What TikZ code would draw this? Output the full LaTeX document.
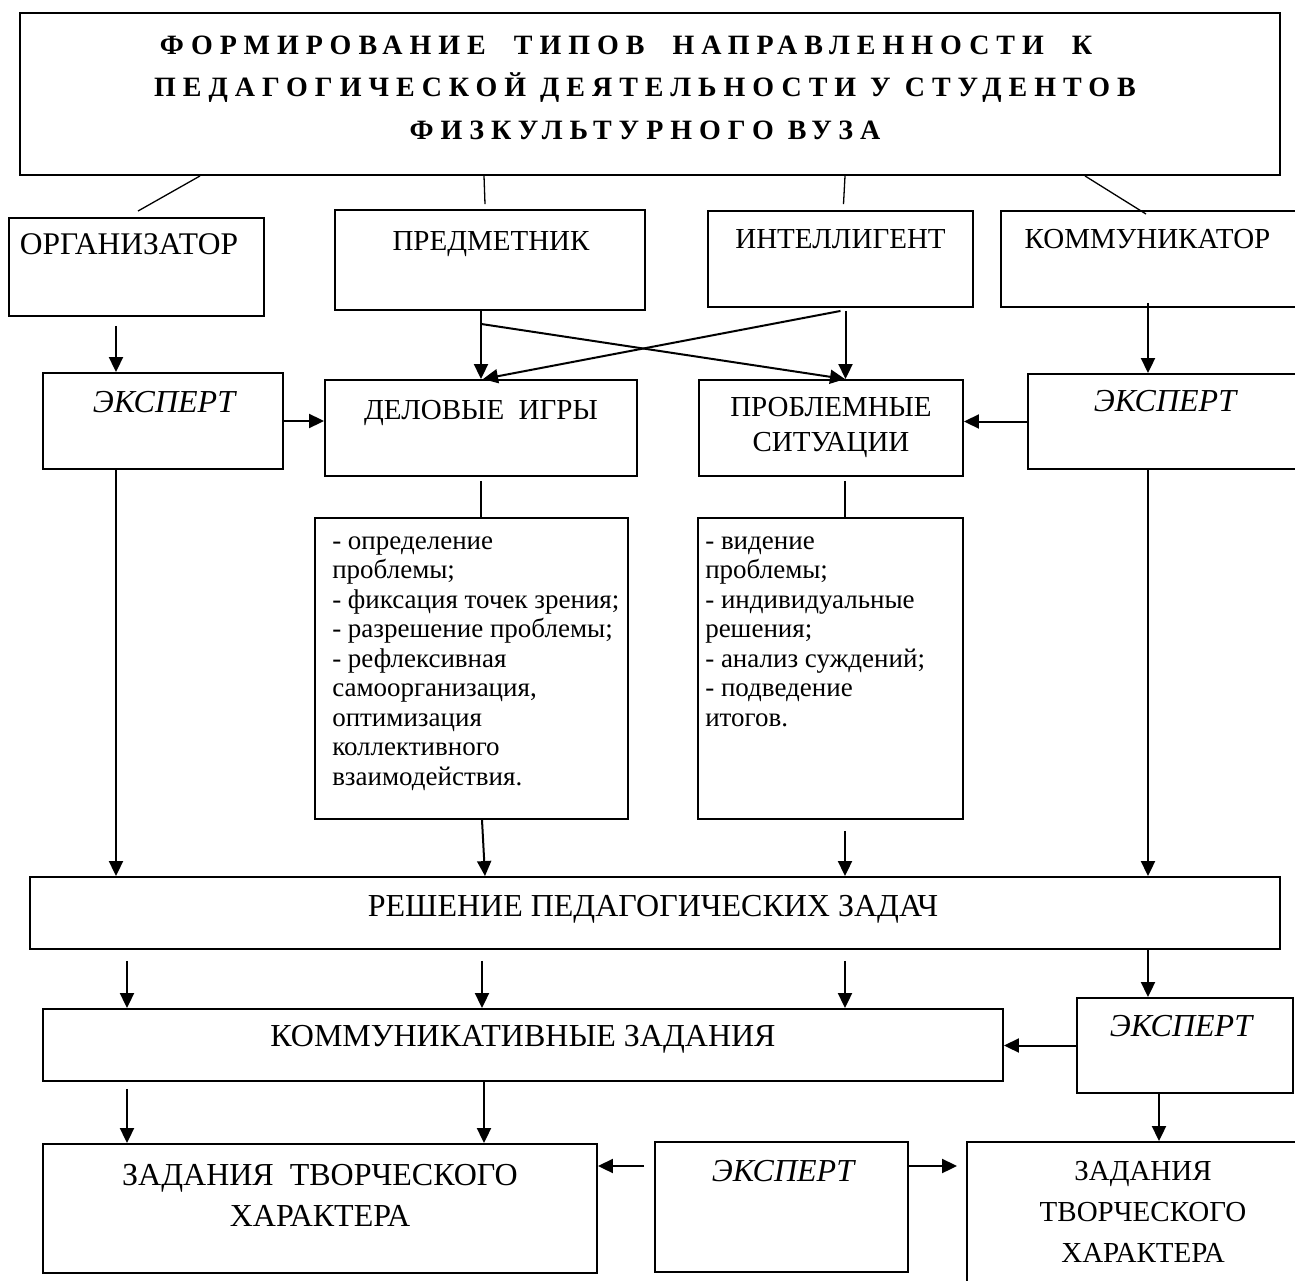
\documentclass[tikz,border=0pt]{standalone}
\usepackage{fontspec}
\setmainfont{Liberation Serif}
\usetikzlibrary{arrows.meta}

\tikzset{
	box/.style={draw=black, line width=1.9pt, inner sep=0pt},
	arr/.style={-{Triangle[length=15pt,width=14pt]}, line width=2pt},
	link/.style={line width=1.3pt},
	lbl/.style={font=\fontsize{29}{41}\selectfont, inner sep=0pt, align=center, anchor=base},
	big/.style={lbl, font=\fontsize{32}{41}\selectfont},
	expert/.style={lbl, font=\fontsize{32}{41}\selectfont\itshape},
	lst/.style={font=\fontsize{27}{29.5}\selectfont, inner sep=0pt, align=left, anchor=base west},
	head/.style={font=\fontsize{28}{42.5}\selectfont\bfseries\addfontfeature{LetterSpace=25}, inner sep=0pt, align=center, anchor=base},
}

\begin{document}
\begin{tikzpicture}[x=1pt,y=-1pt]
	\useasboundingbox (0,0) rectangle (1295,1281);

	% boxes
	\node[box, minimum width=1260pt, minimum height=162pt] (title) at (650,94) {};

	\node[box, minimum width=255pt, minimum height=98pt] (org) at (136.5,267) {};
	\node[box, minimum width=310pt, minimum height=100pt] (pred) at (490,260) {};
	\node[box, minimum width=265pt, minimum height=96pt] (intel) at (840.5,259) {};
	\node[box, minimum width=299pt, minimum height=96pt] (komm) at (1150.5,259) {};

	\node[box, minimum width=240pt, minimum height=96pt] (eksp1) at (163,421) {};
	\node[box, minimum width=312pt, minimum height=96pt] (game) at (481,428) {};
	\node[box, minimum width=264pt, minimum height=96pt] (prob) at (831,428) {};
	\node[box, minimum width=272pt, minimum height=95pt] (eksp2) at (1164,421.5) {};

	\node[box, minimum width=313pt, minimum height=301pt] (glist) at (471.5,668.5) {};
	\node[box, minimum width=265pt, minimum height=301pt] (plist) at (830.5,668.5) {};

	\node[box, minimum width=1250pt, minimum height=72pt] (resh) at (655,913) {};
	\node[box, minimum width=960pt, minimum height=72pt] (kz) at (523,1045) {};
	\node[box, minimum width=216pt, minimum height=95pt] (eksp3) at (1185,1045.5) {};

	\node[box, minimum width=554pt, minimum height=129pt] (zt1) at (320,1208.5) {};
	\node[box, minimum width=253pt, minimum height=130pt] (eksp4) at (781.5,1207) {};
	\node[box, minimum width=333pt, minimum height=153pt] (zt2) at (1133.5,1218.5) {};

	% texts
	\node[head] (title-t) at ([xshift=-5pt,yshift=-127pt]title.north)
		{ФОРМИРОВАНИЕ\ \ ТИПОВ\ \ НАПРАВЛЕННОСТИ\ \ К\hbox to 38pt{}\\ПЕДАГОГИЧЕСКОЙ ДЕЯТЕЛЬНОСТИ У СТУДЕНТОВ\\ФИЗКУЛЬТУРНОГО ВУЗА};

	\node[lbl, font=\fontsize{31.5}{41}\selectfont] (org-t) at ([xshift=-7.5pt,yshift=-37pt]org.north) {ОРГАНИЗАТОР};
	\node[lbl] (pred-t) at ([xshift=1pt,yshift=-41pt]pred.north) {ПРЕДМЕТНИК};
	\node[lbl] (intel-t) at ([yshift=-38pt]intel.north) {ИНТЕЛЛИГЕНТ};
	\node[lbl] (komm-t) at ([xshift=-3pt,yshift=-38pt]komm.north) {КОММУНИКАТОР};

	\node[expert] (eksp1-t) at ([xshift=1pt,yshift=-40pt]eksp1.north) {ЭКСПЕРТ};
	\node[lbl] (game-t) at ([yshift=-40pt]game.north) {ДЕЛОВЫЕ\ \ ИГРЫ};
	\node[lbl, font=\fontsize{29}{35}\selectfont] (prob-t) at ([yshift=-72pt]prob.north) {ПРОБЛЕМНЫЕ\\СИТУАЦИИ};
	\node[expert] (eksp2-t) at ([xshift=1pt,yshift=-38pt]eksp2.north) {ЭКСПЕРТ};

	\node[lst] (glist-t) at ([xshift=18pt,yshift=-268pt]glist.north west)
		{- определение\\проблемы;\\- фиксация точек зрения;\\- разрешение проблемы;\\- рефлексивная\\самоорганизация,\\оптимизация\\коллективного\\взаимодействия.};
	\node[lst] (plist-t) at ([xshift=8pt,yshift=-209pt]plist.north west)
		{- видение\\проблемы;\\- индивидуальные\\решения;\\- анализ суждений;\\- подведение\\итогов.};

	\node[big] (resh-t) at ([xshift=-2pt,yshift=-40pt]resh.north) {РЕШЕНИЕ ПЕДАГОГИЧЕСКИХ ЗАДАЧ};
	\node[big] (kz-t) at ([yshift=-38pt]kz.north) {КОММУНИКАТИВНЫЕ ЗАДАНИЯ};
	\node[expert] (eksp3-t) at ([xshift=-4pt,yshift=-39pt]eksp3.north) {ЭКСПЕРТ};

	\node[big] (zt1-t) at ([yshift=-83pt]zt1.north) {ЗАДАНИЯ\ \ ТВОРЧЕСКОГО\\ХАРАКТЕРА};
	\node[expert] (eksp4-t) at ([xshift=1.5pt,yshift=-40pt]eksp4.north) {ЭКСПЕРТ};
	\node[lbl] (zt2-t) at ([xshift=9.5pt,yshift=-121pt]zt2.north) {ЗАДАНИЯ\\ТВОРЧЕСКОГО\\ХАРАКТЕРА};

	% lines from the title
	\draw[link] ([xshift=-450pt]title.south) -- ([xshift=1.5pt,yshift=6pt]org.north);
	\draw[link] ([xshift=-166pt]title.south) -- ([xshift=-5pt,yshift=5pt]pred.north);
	\draw[link] ([xshift=195pt]title.south) -- ([xshift=3pt,yshift=6pt]intel.north);
	\draw[link] ([xshift=435pt]title.south) -- ([xshift=-4.5pt,yshift=-4pt]komm.north);

	% arrows
	\draw[arr, shorten <=9pt] ([xshift=-20.5pt]org.south) -- ([xshift=-47pt]eksp1.north);
	\draw[arr] ([xshift=-9pt]pred.south) -- (game.north);
	\draw[arr] ([xshift=-9pt,yshift=-13pt]pred.south) -- ([xshift=14pt]prob.north);
	\draw[arr] ([yshift=-3pt]intel.south) -- ([xshift=2pt]game.north);
	\draw[arr, shorten <=3pt] ([xshift=5pt]intel.south) -- ([xshift=14.5pt]prob.north);
	\draw[arr] ([xshift=-2.5pt,yshift=5pt]komm.south) -- ([xshift=-16pt]eksp2.north);

	\draw[arr] (eksp1.east) -- (eksp1.east -| game.west);
	\draw[arr] (eksp2.west) -- (eksp2.west -| prob.east);

	\draw[link, line width=1.7pt, shorten <=4pt] (game.south) -- (game.south |- glist.north);
	\draw[link, line width=1.7pt, shorten <=4pt] ([xshift=14pt]prob.south) -- ([xshift=14.5pt]plist.north);

	\draw[arr] ([xshift=-47pt]eksp1.south) -- ([xshift=-539pt]resh.north);
	\draw[arr] ([xshift=10.5pt]glist.south) -- ([xshift=-170pt]resh.north);
	\draw[arr, shorten <=11pt] ([xshift=14.5pt]plist.south) -- ([xshift=190pt]resh.north);
	\draw[arr] ([xshift=-16pt]eksp2.south) -- ([xshift=493pt]resh.north);

	\draw[arr, shorten <=11pt] ([xshift=-528pt]resh.south) -- ([xshift=-396pt]kz.north);
	\draw[arr, shorten <=11pt] ([xshift=-173pt]resh.south) -- ([xshift=-41pt]kz.north);
	\draw[arr, shorten <=11pt] ([xshift=190pt]resh.south) -- ([xshift=322pt]kz.north);
	\draw[arr] ([xshift=493pt]resh.south) -- ([xshift=-37pt]eksp3.north);
	\draw[arr] (eksp3.west) -- (eksp3.west -| kz.east);

	\draw[arr, shorten <=7pt] ([xshift=-396pt]kz.south) -- ([xshift=-193pt]zt1.north);
	\draw[arr] ([xshift=-39pt]kz.south) -- ([xshift=164pt]zt1.north);
	\draw[arr] ([xshift=-26pt]eksp3.south) -- ([xshift=25.5pt]zt2.north);
	\draw[arr, shorten <=10pt] ([yshift=41pt]eksp4.west) -- ([yshift=41pt]eksp4.west -| zt1.east);
	\draw[arr, shorten >=9pt] ([yshift=41pt]eksp4.east) -- ([yshift=41pt]eksp4.east -| zt2.west);

\end{tikzpicture}
\end{document}
